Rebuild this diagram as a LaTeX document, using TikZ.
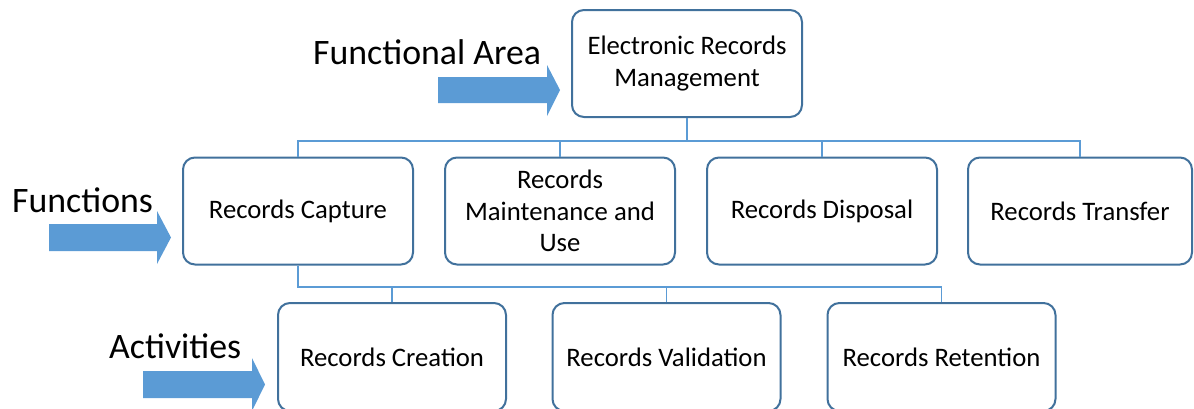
\documentclass[tikz,border=0pt]{standalone}
\usepackage{fontspec}
\setmainfont{Carlito}
\definecolor{boxline}{RGB}{65,113,156}
\definecolor{connline}{RGB}{91,155,213}
\definecolor{arrowfill}{RGB}{91,155,213}
\begin{document}
\begin{tikzpicture}[x=1pt,y=-1pt,
  box/.style={draw=boxline, line width=2pt, rounded corners=12pt, fill=white,
    minimum width=230pt, minimum height=107pt, align=center, inner sep=2pt,
    font=\fontsize{26.7}{31.5}\selectfont},
  conn/.style={draw=connline, line width=1.6pt},
  lbl/.style={anchor=base west, inner sep=0pt, font=\fontsize{35.8}{40}\selectfont},
  bigarrow/.style={fill=arrowfill}]
\path[use as bounding box] (0,0) rectangle (1194,408);
\clip (0,0) rectangle (1194,408);
% connectors bus levels
\coordinate (b1) at (0,141);
\coordinate (b2) at (0,287);
% nodes
\node[box] (erm) at (687,63.5) {Electronic Records\\Management};
\node[box] (cap) at (298,211) {Records Capture};
\node[box] (mnt) at (560,211) {Records\\Maintenance and\\Use};
\node[box] (dsp) at (822,211) {Records Disposal};
\node[box, minimum width=224pt] (trn) at (1080,211) {Records Transfer};
\node[box, minimum width=228pt, minimum height=108pt] (cre) at (392,357) {Records Creation};
\node[box, minimum width=228pt, minimum height=108pt] (val) at (666.5,357) {Records Validation};
\node[box, minimum width=228pt, minimum height=108pt] (ret) at (941.5,357) {Records Retention};
% connectors
\draw[conn] (erm.south) -- (erm.south |- b1);
\draw[conn] (cap.north) |- (b1 -| trn.north) -- (trn.north);
\draw[conn] (mnt.north) -- (mnt.north |- b1);
\draw[conn] (dsp.north) -- (dsp.north |- b1);
\draw[conn] (cap.south) |- (b2 -| ret.north) -- (ret.north);
\draw[conn] (cre.north) -- (cre.north |- b2);
\draw[conn] (val.north) -- (val.north |- b2);
% labels
\node[lbl] (lfa) at (313,64) {Functional Area};
\node[lbl] (lfn) at (12,212) {Functions};
\node[lbl] (lac) at (109,358) {Activities};
% block arrows
\fill[bigarrow] (438,77) -- (547,77) -- (547,65) -- (560,90) -- (547,116) -- (547,103) -- (438,103) -- cycle;
\fill[bigarrow] (49,224) -- (157,224) -- (157,211) -- (171,237.5) -- (157,264) -- (157,251) -- (49,251) -- cycle;
\fill[bigarrow] (143,371) -- (252,371) -- (252,358) -- (265,384.5) -- (252,411) -- (252,398) -- (143,398) -- cycle;
\end{tikzpicture}
\end{document}
